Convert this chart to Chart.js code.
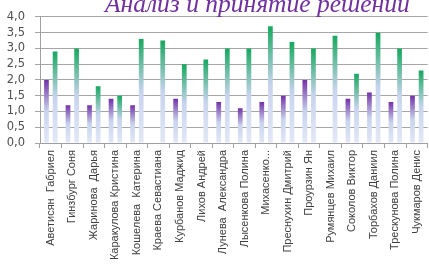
<!DOCTYPE html>
<html lang="ru">
<head>
    <meta charset="UTF-8">
    <title>Анализ и принятие решений</title>
    <style>
        html, body { margin: 0; padding: 0; background: #fff; overflow: hidden; }
        .wrap { position: relative; width: 429px; height: 264px; overflow: hidden; }
        .title {
            position: absolute; left: 105px; top: -9px;
            font: italic 25.5px "Liberation Serif", serif; line-height: 26px;
            color: #7030a0; white-space: nowrap;
        }
        canvas { position: absolute; left: 0; top: 0; }
    </style>
</head>
<body>
    <div class="wrap">
        <canvas id="myChart" width="432" height="264"></canvas>
        <div class="title">Анализ и принятие решений</div>
    </div>

    <script src="https://cdn.jsdelivr.net/npm/chart.js@4.4.0/dist/chart.umd.min.js"></script>
    <script>
        var categories = [
            'Аветисян  Габриел', 'Гинзбург Соня', 'Жаринова  Дарья', 'Каракулова Кристина',
            'Кошелева  Катерина', 'Краева Севастиана', 'Курбанов Маджид', 'Лихов Андрей',
            'Лунева  Александра', 'Лысенкова Полина', 'Михасенко...', 'Преснухин Дмитрий',
            'Проурзин Ян', 'Румянцев Михаил', 'Соколов Виктор', 'Торбахов Даниил',
            'Трескунова Полина', 'Чукмаров Денис'
        ];
        var purpleValues = [2.0, 1.2, 1.2, 1.4, 1.2, null, 1.4, null, 1.3, 1.1, 1.3, 1.5, 2.0, null, 1.4, 1.6, 1.3, 1.5];
        var greenValues = [2.9, 3.0, 1.8, 1.5, 3.3, 3.25, 2.5, 2.65, 3.0, 3.0, 3.7, 3.2, 3.0, 3.4, 2.2, 3.5, 3.0, 2.3];

        // gradient from the bar top down to the axis, like the excel fill
        function barFill(color) {
            return function (ctx) {
                var chart = ctx.chart;
                if (!chart.chartArea || ctx.type !== 'data' || ctx.raw == null) return color;
                var y = chart.scales.y;
                var top = y.getPixelForValue(ctx.raw);
                var bottom = y.getPixelForValue(0);
                var g = chart.ctx.createLinearGradient(0, top, 0, bottom);
                g.addColorStop(0, color);
                g.addColorStop(0.5, '#c8d4ee');
                g.addColorStop(1, '#e3e8f6');
                return g;
            };
        }

        var ctx = document.getElementById('myChart').getContext('2d');
        new Chart(ctx, {
            type: 'bar',
            data: {
                labels: categories,
                datasets: [
                    { data: purpleValues, backgroundColor: barFill('#7332a8'), categoryPercentage: 0.8, barPercentage: 0.55 },
                    { data: greenValues, backgroundColor: barFill('#16a85e'), categoryPercentage: 0.8, barPercentage: 0.55 }
                ]
            },
            options: {
                responsive: false,
                animation: false,
                layout: { padding: { top: 14, left: 0, right: 0, bottom: 0 } },
                plugins: { legend: { display: false }, tooltip: { enabled: false } },
                scales: {
                    x: {
                        afterFit: function (s) { s.height = 121; },
                        grid: { drawOnChartArea: false, color: '#a0a0a0', tickLength: 5, offset: true },
                        border: { color: '#a0a0a0' },
                        ticks: {
                            minRotation: 90, maxRotation: 90, autoSkip: false, padding: 2,
                            color: '#404040', font: { family: 'Liberation Sans', size: 11 }
                        }
                    },
                    y: {
                        min: 0, max: 4,
                        afterFit: function (s) { s.width = 40; },
                        grid: { color: '#a6a6a6', tickLength: 5 },
                        border: { color: '#a0a0a0' },
                        ticks: {
                            stepSize: 0.5, autoSkip: false,
                            padding: 10, color: '#505050',
                            font: { family: 'DejaVu Sans', size: 11.5 },
                            callback: function (v) { return v.toFixed(1).replace('.', ','); }
                        }
                    }
                }
            }
        });
    </script>
</body>
</html>
